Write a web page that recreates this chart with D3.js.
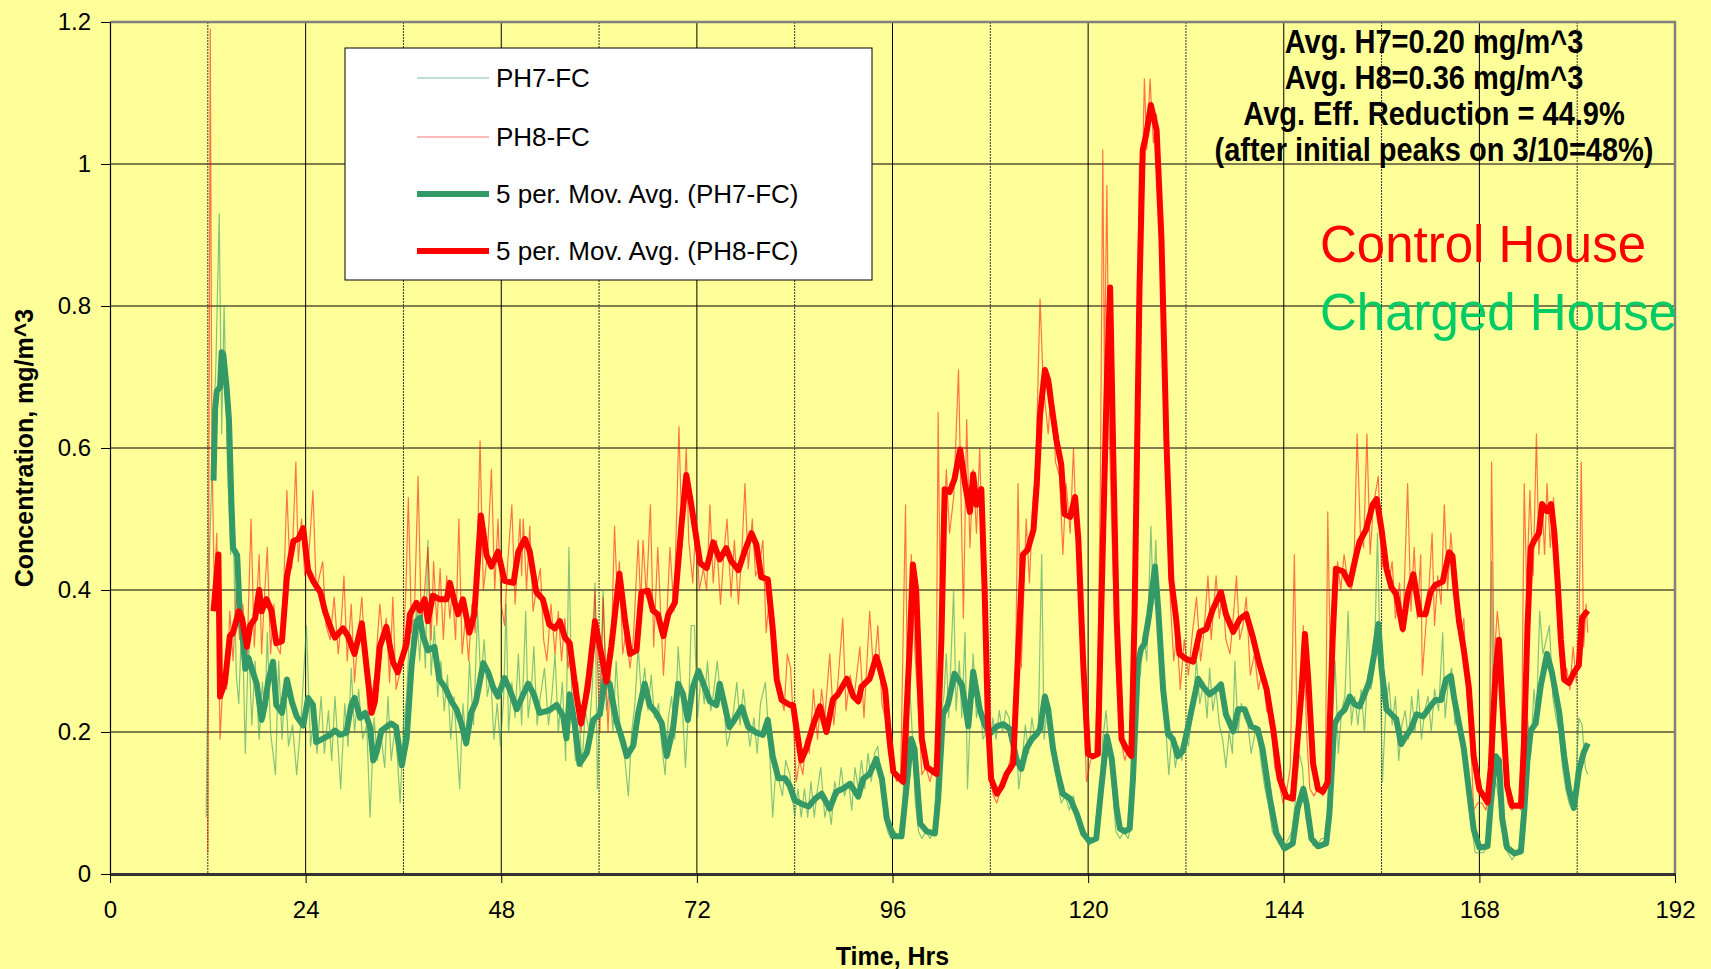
<!DOCTYPE html>
<html>
<head>
<meta charset="utf-8">
<script src="https://cdn.jsdelivr.net/npm/d3@7"></script>
<style>
  html, body { margin: 0; padding: 0; background: #ffff99; }
  svg { display: block; font-family: Arial, "Liberation Sans", sans-serif; }
</style>
</head>
<body>
<svg id="chart" width="1711" height="969"></svg>
<script>
'use strict';

// ---- data (hours, mg/m^3) ----

const xTicks = [0, 24, 48, 72, 96, 120, 144, 168, 192];
const yTicks = [0, 0.2, 0.4, 0.6, 0.8, 1, 1.2];

const legendLabels = ['PH7-FC', 'PH8-FC', '5 per. Mov. Avg. (PH7-FC)', '5 per. Mov. Avg. (PH8-FC)'];
const summaryLines = [
  'Avg. H7=0.20 mg/m^3',
  'Avg. H8=0.36 mg/m^3',
  'Avg. Eff. Reduction = 44.9%',
  '(after initial peaks on 3/10=48%)'
];
const houseLabels = ['Control House', 'Charged House'];

// PH7-FC raw readings (charged house)
const ph7Raw = [
  [11.8,0.08],[12.2,0.45],[12.6,0.60],[13.0,0.72],[13.4,0.93],[13.7,0.62],[14.0,0.80],[14.4,0.58],[14.8,0.45],[15.1,0.50],
  [15.5,0.28],[15.8,0.24],[16.2,0.37],[16.6,0.17],[17.0,0.33],[17.4,0.21],[17.8,0.30],[18.3,0.19],[18.7,0.27],[19.0,0.22],
  [19.3,0.34],[19.7,0.20],[20.3,0.14],[20.7,0.30],[21.1,0.19],[21.5,0.27],[21.9,0.18],[22.4,0.21],[22.9,0.14],[23.4,0.21],
  [24.1,0.35],[24.6,0.18],[25.0,0.22],[25.4,0.17],[25.9,0.25],[26.3,0.17],[26.8,0.23],[27.2,0.16],[27.6,0.25],[28.3,0.12],
  [28.8,0.24],[29.2,0.18],[29.6,0.29],[30.0,0.20],[30.5,0.26],[31.0,0.19],[31.5,0.21],[31.9,0.08],[32.4,0.22],[32.8,0.16],
  [33.2,0.20],[33.7,0.15],[34.1,0.25],[34.5,0.16],[35.0,0.21],[35.6,0.10],[36.0,0.21],[36.4,0.25],[36.8,0.36],[37.2,0.28],
  [37.6,0.38],[38.0,0.30],[38.3,0.37],[38.7,0.29],[39.0,0.47],[39.4,0.28],[39.8,0.35],[40.2,0.25],[40.6,0.30],[41.0,0.23],
  [41.4,0.28],[41.8,0.19],[42.2,0.25],[42.9,0.12],[43.3,0.24],[43.7,0.18],[44.1,0.30],[44.6,0.21],[45.1,0.37],[45.5,0.27],
  [45.9,0.33],[46.3,0.25],[46.7,0.28],[47.1,0.19],[47.5,0.24],[47.9,0.18],[48.3,0.25],[48.6,0.38],[48.9,0.20],[49.3,0.27],
  [49.7,0.22],[50.1,0.31],[50.5,0.21],[51.0,0.37],[51.3,0.22],[51.7,0.26],[52.0,0.32],[52.4,0.21],[52.8,0.25],[53.3,0.29],
  [53.8,0.21],[54.2,0.25],[54.6,0.31],[55.0,0.20],[55.5,0.27],[55.9,0.16],[56.3,0.46],[56.7,0.22],[57.1,0.16],[57.5,0.24],
  [57.9,0.15],[58.3,0.23],[58.8,0.20],[59.2,0.27],[59.5,0.41],[59.8,0.12],[60.2,0.28],[60.5,0.40],[60.9,0.23],[61.3,0.26],
  [61.7,0.20],[62.1,0.30],[62.6,0.20],[63.0,0.18],[63.6,0.11],[64.0,0.20],[64.4,0.24],[64.8,0.32],[65.2,0.25],[65.6,0.29],
  [66.0,0.23],[66.4,0.28],[66.8,0.22],[67.3,0.24],[67.7,0.18],[68.1,0.14],[68.5,0.22],[68.9,0.25],[69.3,0.19],[69.7,0.32],
  [70.2,0.24],[70.6,0.15],[71.0,0.24],[71.3,0.35],[71.7,0.35],[72.1,0.22],[72.5,0.28],[72.9,0.24],[73.3,0.30],[73.7,0.23],
  [74.1,0.26],[74.5,0.30],[74.9,0.25],[75.3,0.24],[75.7,0.18],[76.1,0.20],[76.5,0.23],[76.9,0.27],[77.3,0.21],[77.7,0.26],
  [78.1,0.22],[78.5,0.18],[79.0,0.22],[79.4,0.17],[79.8,0.24],[80.4,0.27],[80.8,0.20],[81.3,0.08],[81.7,0.15],[82.1,0.13],
  [82.5,0.11],[82.9,0.16],[83.4,0.14],[84.0,0.08],[84.4,0.12],[84.8,0.08],[85.2,0.12],[85.6,0.08],[86.0,0.13],[86.4,0.08],
  [86.8,0.12],[87.2,0.15],[87.7,0.08],[88.1,0.10],[88.5,0.07],[88.9,0.13],[89.3,0.11],[89.7,0.15],[90.1,0.11],[90.6,0.13],
  [91.0,0.09],[91.4,0.15],[91.8,0.12],[92.2,0.16],[92.6,0.12],[93.0,0.17],[93.4,0.13],[93.8,0.17],[94.2,0.18],[94.6,0.13],
  [95.0,0.08],[95.4,0.06],[95.8,0.05],[96.3,0.06],[96.8,0.05],[97.2,0.07],[97.7,0.25],[98.1,0.27],[98.5,0.18],[98.8,0.10],
  [99.2,0.06],[99.6,0.05],[100.1,0.06],[100.6,0.05],[101.1,0.06],[101.5,0.17],[101.9,0.22],[102.3,0.25],[102.6,0.31],[102.9,0.22],
  [103.5,0.40],[103.8,0.23],[104.2,0.30],[104.5,0.22],[104.9,0.34],[105.2,0.12],[105.6,0.24],[105.9,0.31],[106.3,0.22],[106.7,0.25],
  [107.1,0.19],[107.5,0.20],[107.9,0.16],[108.3,0.22],[108.7,0.19],[109.1,0.23],[109.5,0.20],[109.9,0.23],[110.3,0.22],[110.7,0.17],
  [111.1,0.20],[111.5,0.12],[111.9,0.16],[112.3,0.21],[112.7,0.17],[113.1,0.22],[113.5,0.19],[113.9,0.21],[114.3,0.45],[114.6,0.19],
  [115.0,0.24],[115.4,0.21],[115.8,0.17],[116.2,0.13],[116.7,0.10],[117.2,0.11],[117.7,0.09],[118.2,0.11],[118.6,0.08],[119.1,0.06],
  [119.6,0.05],[120.1,0.04],[120.6,0.05],[121.0,0.05],[121.4,0.11],[121.8,0.19],[122.2,0.23],[122.6,0.17],[123.0,0.12],[123.4,0.06],
  [123.9,0.05],[124.4,0.06],[124.9,0.05],[125.3,0.07],[125.6,0.20],[126.0,0.30],[126.4,0.28],[126.8,0.34],[127.2,0.30],[127.7,0.49],
  [128.0,0.38],[128.3,0.47],[128.7,0.33],[129.1,0.25],[129.5,0.21],[129.9,0.14],[130.3,0.20],[130.7,0.15],[131.1,0.18],[131.5,0.16],
  [131.9,0.20],[132.3,0.18],[132.8,0.23],[133.3,0.30],[133.7,0.24],[134.2,0.27],[134.6,0.22],[134.9,0.29],[135.3,0.23],[135.7,0.26],
  [136.1,0.21],[136.5,0.19],[136.9,0.15],[137.3,0.20],[137.7,0.17],[138.0,0.30],[138.4,0.20],[138.8,0.24],[139.2,0.22],[139.6,0.21],
  [140.0,0.17],[140.5,0.20],[140.9,0.19],[141.3,0.15],[141.7,0.12],[142.1,0.10],[142.6,0.06],[143.1,0.05],[143.6,0.04],[144.1,0.04],
  [144.6,0.05],[145.0,0.06],[145.4,0.10],[145.9,0.17],[146.3,0.15],[146.7,0.08],[147.1,0.06],[147.6,0.04],[148.1,0.04],[148.6,0.05],
  [149.1,0.05],[149.5,0.08],[149.9,0.20],[150.3,0.30],[150.7,0.17],[151.1,0.23],[151.5,0.25],[151.9,0.37],[152.3,0.21],[152.7,0.25],
  [153.1,0.21],[153.5,0.26],[153.9,0.20],[154.3,0.28],[154.7,0.26],[155.1,0.29],[155.5,0.48],[155.8,0.31],[156.1,0.13],[156.5,0.23],
  [156.9,0.27],[157.3,0.21],[157.7,0.25],[158.1,0.16],[158.5,0.21],[158.9,0.23],[159.3,0.19],[159.7,0.25],[160.1,0.20],[160.5,0.26],
  [160.9,0.19],[161.3,0.23],[161.7,0.25],[162.1,0.20],[162.5,0.26],[163.0,0.23],[163.5,0.34],[163.8,0.22],[164.2,0.27],[164.6,0.29],
  [165.0,0.21],[165.4,0.23],[165.8,0.19],[166.2,0.16],[166.6,0.12],[167.0,0.07],[167.5,0.03],[168.0,0.03],[168.5,0.03],[169.0,0.04],
  [169.3,0.10],[169.5,0.44],[169.8,0.14],[170.2,0.12],[170.6,0.08],[171.0,0.04],[171.5,0.03],[172.0,0.02],[172.6,0.03],[173.1,0.04],
  [173.5,0.12],[173.9,0.22],[174.3,0.17],[174.7,0.26],[175.0,0.22],[175.4,0.37],[175.8,0.31],[176.2,0.33],[176.6,0.35],[177.0,0.25],
  [177.4,0.22],[177.8,0.20],[178.2,0.15],[178.6,0.12],[179.0,0.10],[179.4,0.09],[179.8,0.12],[180.2,0.22],[180.6,0.21],[181.0,0.15],
  [181.3,0.14]
];

// PH8-FC raw readings (control house)
const ph8Raw = [
  [12.0,0.03],[12.3,1.19],[12.5,0.60],[12.8,0.40],[13.1,0.48],[13.5,0.19],[13.9,0.28],[14.3,0.26],[14.7,0.37],[15.1,0.30],
  [15.5,0.40],[15.9,0.33],[16.3,0.38],[16.8,0.30],[17.3,0.50],[17.7,0.32],[18.3,0.45],[18.6,0.31],[18.9,0.38],[19.3,0.46],
  [19.7,0.31],[20.1,0.38],[20.5,0.32],[20.9,0.31],[21.3,0.40],[21.7,0.54],[22.0,0.45],[22.3,0.43],[22.8,0.58],[23.1,0.44],
  [23.5,0.50],[23.9,0.42],[24.4,0.45],[24.9,0.54],[25.3,0.40],[25.7,0.42],[26.1,0.44],[26.5,0.35],[27.0,0.33],[27.5,0.39],
  [28.0,0.31],[28.4,0.36],[28.7,0.42],[29.1,0.30],[29.6,0.38],[30.0,0.27],[30.4,0.33],[30.9,0.39],[31.3,0.30],[31.7,0.22],
  [32.1,0.25],[32.5,0.28],[33.1,0.38],[33.5,0.33],[33.9,0.36],[34.3,0.27],[34.7,0.39],[35.1,0.26],[35.5,0.28],[35.9,0.31],
  [36.3,0.40],[36.6,0.53],[37.0,0.34],[37.4,0.39],[37.8,0.56],[38.2,0.35],[38.6,0.40],[39.0,0.46],[39.4,0.33],[39.7,0.44],
  [40.1,0.35],[40.5,0.43],[40.9,0.33],[41.3,0.42],[41.7,0.36],[42.0,0.40],[42.4,0.33],[42.8,0.50],[43.2,0.31],[43.6,0.36],
  [44.0,0.30],[44.4,0.38],[44.8,0.34],[45.4,0.61],[45.8,0.40],[46.3,0.45],[46.8,0.57],[47.2,0.40],[47.6,0.50],[48.0,0.38],
  [48.4,0.35],[48.8,0.44],[49.3,0.52],[49.7,0.38],[50.3,0.50],[50.5,0.42],[50.7,0.50],[51.1,0.40],[51.5,0.49],[51.9,0.37],
  [52.3,0.40],[52.8,0.43],[53.2,0.33],[53.6,0.30],[54.1,0.38],[54.6,0.31],[55.0,0.37],[55.4,0.30],[55.8,0.36],[56.2,0.29],
  [56.6,0.32],[57.0,0.25],[57.4,0.27],[57.8,0.20],[58.2,0.26],[58.6,0.29],[59.0,0.30],[59.5,0.40],[60.1,0.20],[60.5,0.39],
  [61.1,0.20],[61.5,0.32],[61.9,0.49],[62.2,0.40],[62.5,0.44],[62.9,0.31],[63.3,0.34],[63.8,0.29],[64.2,0.33],[64.8,0.47],
  [65.1,0.38],[65.4,0.47],[65.8,0.39],[66.3,0.52],[66.7,0.32],[67.2,0.46],[67.9,0.28],[68.3,0.36],[68.7,0.46],[69.2,0.37],
  [69.8,0.63],[70.2,0.46],[70.7,0.60],[71.0,0.47],[71.5,0.41],[71.9,0.50],[72.3,0.40],[72.8,0.43],[73.2,0.40],[73.6,0.52],
  [74.0,0.41],[74.4,0.47],[74.9,0.38],[75.3,0.45],[75.7,0.50],[76.2,0.39],[76.6,0.47],[77.1,0.38],[77.5,0.45],[77.9,0.55],
  [78.3,0.43],[78.8,0.50],[79.2,0.42],[79.6,0.43],[80.1,0.47],[80.5,0.34],[80.9,0.39],[81.3,0.30],[81.8,0.27],[82.3,0.25],
  [82.7,0.23],[83.1,0.31],[83.5,0.29],[84.2,0.13],[84.6,0.16],[85.0,0.14],[85.4,0.19],[85.8,0.17],[86.3,0.26],[86.8,0.19],
  [87.3,0.26],[87.7,0.22],[88.3,0.31],[88.8,0.21],[89.3,0.27],[89.9,0.36],[90.3,0.23],[90.8,0.28],[91.3,0.25],[92.0,0.32],
  [92.5,0.22],[93.2,0.37],[93.7,0.28],[94.2,0.35],[94.7,0.24],[95.1,0.22],[95.5,0.17],[96.0,0.15],[96.5,0.13],[97.0,0.14],
  [97.6,0.52],[97.9,0.15],[98.3,0.45],[98.7,0.32],[99.1,0.25],[99.6,0.14],[100.1,0.15],[100.6,0.13],[101.0,0.15],[101.3,0.14],
  [101.6,0.65],[101.9,0.34],[102.2,0.45],[102.6,0.57],[103.0,0.48],[103.5,0.53],[104.1,0.71],[104.7,0.36],[105.1,0.64],[105.5,0.46],
  [105.9,0.57],[106.3,0.48],[106.7,0.60],[107.1,0.42],[107.6,0.20],[108.0,0.13],[108.4,0.11],[108.8,0.10],[109.3,0.12],[109.7,0.13],
  [110.2,0.15],[110.6,0.17],[111.0,0.20],[111.4,0.55],[111.8,0.29],[112.4,0.50],[112.8,0.41],[113.2,0.52],[113.6,0.58],[114.1,0.81],
  [114.5,0.69],[115.1,0.62],[115.5,0.69],[116.0,0.58],[116.5,0.56],[116.9,0.45],[117.3,0.55],[117.8,0.48],[118.2,0.60],[118.6,0.47],
  [119.0,0.38],[119.4,0.25],[119.8,0.13],[120.3,0.16],[120.8,0.17],[121.2,0.28],[121.5,0.55],[121.8,1.02],[122.0,0.70],[122.3,0.97],
  [122.6,0.62],[123.0,0.45],[123.5,0.28],[124.0,0.19],[124.5,0.16],[125.0,0.18],[125.4,0.17],[125.9,0.65],[126.3,1.00],[126.6,0.95],
  [126.9,1.12],[127.2,1.02],[127.6,1.12],[128.0,1.03],[128.4,1.07],[128.9,0.85],[129.3,0.70],[129.7,0.52],[130.1,0.38],[130.5,0.30],
  [130.9,0.34],[131.3,0.26],[131.8,0.33],[132.3,0.28],[132.8,0.34],[133.3,0.39],[133.8,0.30],[134.2,0.34],[134.7,0.42],[135.1,0.33],
  [135.7,0.42],[136.1,0.36],[136.5,0.40],[136.9,0.33],[137.4,0.31],[137.8,0.36],[138.2,0.42],[138.6,0.33],[139.0,0.35],[139.4,0.39],
  [139.9,0.28],[140.4,0.31],[140.9,0.26],[141.4,0.29],[141.9,0.23],[142.4,0.22],[142.9,0.15],[143.4,0.13],[143.9,0.10],[144.4,0.12],
  [144.8,0.15],[145.3,0.45],[145.7,0.15],[146.0,0.22],[146.4,0.35],[146.8,0.20],[147.2,0.12],[147.7,0.11],[148.2,0.12],[148.8,0.11],
  [149.1,0.13],[149.4,0.51],[149.8,0.24],[150.2,0.35],[150.6,0.44],[151.0,0.40],[151.4,0.45],[151.9,0.41],[152.3,0.40],[152.6,0.43],
  [153.0,0.62],[153.4,0.48],[153.8,0.46],[154.2,0.62],[154.6,0.45],[155.0,0.52],[155.6,0.56],[156.0,0.43],[156.5,0.46],[156.9,0.41],
  [157.3,0.44],[157.7,0.36],[158.2,0.41],[158.6,0.34],[159.2,0.55],[159.6,0.37],[160.0,0.46],[160.4,0.36],[160.8,0.45],[161.0,0.28],
  [161.5,0.36],[161.8,0.40],[162.2,0.48],[162.5,0.35],[162.9,0.42],[163.3,0.38],[163.7,0.52],[164.1,0.40],[164.5,0.48],[164.9,0.42],
  [165.3,0.40],[165.7,0.33],[166.1,0.36],[166.5,0.25],[166.9,0.20],[167.3,0.09],[167.8,0.10],[168.3,0.10],[168.8,0.09],[169.2,0.12],
  [169.5,0.58],[169.8,0.30],[170.2,0.37],[170.6,0.32],[171.0,0.15],[171.5,0.10],[172.0,0.09],[172.6,0.10],[173.1,0.09],[173.5,0.55],
  [173.8,0.40],[174.2,0.54],[174.6,0.42],[175.0,0.62],[175.3,0.45],[175.7,0.52],[176.0,0.45],[176.3,0.55],[176.7,0.46],[177.1,0.53],
  [177.5,0.38],[177.9,0.31],[178.3,0.27],[178.7,0.29],[179.1,0.26],[179.5,0.32],[179.9,0.27],[180.2,0.33],[180.5,0.58],[180.8,0.32],
  [181.1,0.38],[181.3,0.34]
];

// 5 period moving average of PH7-FC, as drawn
const ph7Avg = [
  [12.7,0.554],[12.9,0.655],[13.1,0.68],[13.5,0.686],[13.7,0.735],[13.9,0.732],[14.3,0.686],[14.6,0.639],[14.9,0.521],[15.1,0.459],
  [15.6,0.449],[15.9,0.371],[16.2,0.346],[16.6,0.289],[17.0,0.304],[17.4,0.289],[18.0,0.268],[18.6,0.217],[19.0,0.238],[19.4,0.271],
  [20.0,0.299],[20.4,0.238],[21.1,0.227],[21.7,0.274],[22.3,0.243],[22.9,0.222],[23.7,0.209],[24.3,0.248],[24.9,0.238],[25.3,0.186],
  [26.2,0.191],[27.0,0.196],[27.6,0.202],[28.2,0.196],[29.0,0.199],[29.6,0.238],[30.0,0.248],[30.7,0.22],[31.3,0.227],[31.9,0.207],
  [32.3,0.16],[32.7,0.171],[33.3,0.202],[33.9,0.207],[34.5,0.212],[35.1,0.207],[35.8,0.153],[36.4,0.191],[37.0,0.294],[37.6,0.356],
  [38.0,0.361],[38.4,0.335],[39.0,0.315],[39.8,0.32],[40.4,0.274],[41.1,0.263],[41.9,0.243],[42.5,0.232],[43.1,0.212],[43.7,0.184],
  [44.3,0.227],[44.9,0.243],[45.8,0.297],[46.4,0.284],[47.0,0.263],[47.6,0.25],[48.4,0.276],[49.1,0.258],[49.9,0.232],[50.7,0.253],
  [51.3,0.268],[52.0,0.253],[52.7,0.227],[53.8,0.23],[54.8,0.238],[55.6,0.222],[56.0,0.191],[56.4,0.253],[57.0,0.212],[57.6,0.155],
  [58.5,0.171],[59.3,0.217],[60.1,0.225],[60.7,0.274],[61.3,0.268],[62.1,0.217],[62.8,0.191],[63.4,0.166],[64.2,0.181],[64.8,0.227],
  [65.6,0.268],[66.2,0.238],[67.0,0.227],[67.7,0.212],[68.3,0.166],[69.1,0.207],[69.7,0.268],[70.3,0.253],[70.9,0.217],[71.5,0.263],
  [72.2,0.286],[72.8,0.268],[73.6,0.243],[74.4,0.238],[74.8,0.268],[75.4,0.238],[76.0,0.207],[76.6,0.217],[77.5,0.235],[78.3,0.207],
  [79.3,0.199],[80.1,0.196],[80.7,0.217],[81.3,0.166],[82.0,0.135],[82.8,0.135],[83.4,0.124],[84.0,0.104],[84.8,0.099],[85.7,0.095],
  [86.5,0.106],[87.3,0.113],[88.3,0.092],[89.1,0.116],[89.9,0.12],[90.8,0.127],[91.8,0.109],[92.4,0.134],[93.2,0.141],[94.0,0.162],
  [94.7,0.134],[95.3,0.078],[96.1,0.053],[97.1,0.053],[97.7,0.12],[98.3,0.19],[98.7,0.176],[99.4,0.071],[100.2,0.06],[101.2,0.057],
  [101.6,0.106],[102.2,0.225],[102.8,0.239],[103.6,0.282],[104.5,0.267],[104.9,0.239],[105.3,0.208],[105.9,0.285],[106.7,0.232],[107.3,0.211],
  [107.9,0.197],[108.8,0.208],[109.6,0.211],[110.4,0.204],[111.2,0.162],[111.8,0.148],[112.4,0.176],[113.1,0.19],[113.7,0.197],[114.1,0.204],
  [114.7,0.25],[115.1,0.232],[115.7,0.176],[116.3,0.141],[116.9,0.113],[117.8,0.106],[118.6,0.085],[119.4,0.057],[120.2,0.046],[121.0,0.05],
  [121.6,0.12],[122.3,0.194],[122.9,0.162],[123.5,0.092],[123.9,0.064],[124.5,0.06],[125.1,0.064],[125.5,0.134],[126.1,0.296],[126.5,0.317],
  [126.9,0.324],[127.5,0.366],[128.2,0.433],[128.6,0.373],[129.2,0.26],[129.8,0.197],[130.4,0.19],[131.0,0.166],[131.6,0.173],[132.4,0.215],
  [133.5,0.275],[134.1,0.264],[134.9,0.253],[135.7,0.26],[136.3,0.267],[136.9,0.225],[137.8,0.201],[138.4,0.232],[139.2,0.232],[140.0,0.208],
  [140.8,0.204],[141.4,0.176],[142.3,0.106],[143.1,0.057],[144.1,0.036],[145.1,0.043],[145.7,0.092],[146.4,0.12],[146.8,0.099],[147.4,0.05],
  [148.2,0.039],[149.2,0.043],[149.6,0.085],[150.2,0.211],[150.9,0.225],[151.5,0.232],[152.1,0.25],[152.7,0.239],[153.3,0.236],[153.9,0.253],
  [154.5,0.271],[155.1,0.31],[155.6,0.352],[156.0,0.289],[156.6,0.232],[157.2,0.225],[157.8,0.218],[158.4,0.183],[159.0,0.194],[159.6,0.204],
  [160.3,0.225],[161.1,0.222],[161.9,0.235],[162.6,0.245],[163.3,0.245],[163.9,0.274],[164.5,0.279],[164.9,0.248],[165.5,0.212],[166.1,0.176],
  [166.7,0.119],[167.3,0.063],[168.0,0.037],[169.0,0.039],[169.4,0.099],[170.0,0.166],[170.4,0.16],[170.8,0.078],[171.4,0.037],[172.3,0.029],
  [173.1,0.032],[173.5,0.088],[173.9,0.16],[174.3,0.202],[174.9,0.212],[175.5,0.263],[176.3,0.31],[176.9,0.284],[177.8,0.227],[178.4,0.166],
  [179.0,0.119],[179.6,0.093],[180.2,0.145],[180.8,0.171],[181.3,0.184]
];

// 5 period moving average of PH8-FC, as drawn
const ph8Avg = [
  [12.7,0.37],[13.3,0.45],[13.5,0.25],[14.1,0.27],[14.7,0.335],[15.1,0.34],[15.8,0.37],[16.2,0.36],[16.8,0.32],[17.2,0.35],
  [17.8,0.36],[18.3,0.40],[18.6,0.37],[19.2,0.387],[19.8,0.371],[20.4,0.325],[21.1,0.328],[21.7,0.418],[22.5,0.469],[23.1,0.472],
  [23.7,0.487],[24.3,0.428],[24.9,0.413],[25.8,0.397],[26.4,0.369],[27.2,0.343],[27.6,0.333],[28.6,0.346],[29.2,0.335],[30.0,0.31],
  [30.9,0.353],[31.5,0.289],[32.1,0.227],[32.5,0.243],[33.1,0.32],[33.9,0.348],[34.7,0.299],[35.3,0.284],[36.4,0.325],[36.8,0.366],
  [37.6,0.382],[38.0,0.371],[38.6,0.387],[39.0,0.356],[39.6,0.392],[40.4,0.387],[41.3,0.387],[41.7,0.41],[42.3,0.382],[42.7,0.366],
  [43.3,0.387],[44.1,0.34],[44.7,0.366],[45.5,0.505],[46.2,0.449],[46.8,0.433],[47.6,0.454],[48.4,0.413],[49.5,0.41],[50.1,0.454],
  [50.9,0.472],[51.5,0.454],[52.3,0.397],[53.1,0.387],[53.9,0.351],[54.6,0.346],[55.2,0.356],[55.8,0.333],[56.4,0.325],[57.2,0.253],
  [57.8,0.212],[58.6,0.263],[59.5,0.356],[60.1,0.32],[60.9,0.271],[61.5,0.32],[62.5,0.423],[63.2,0.356],[63.8,0.31],[64.6,0.315],
  [65.2,0.397],[66.0,0.399],[66.6,0.371],[67.2,0.366],[67.9,0.335],[68.5,0.366],[69.3,0.382],[70.1,0.49],[70.7,0.562],[71.3,0.521],
  [72.4,0.438],[73.2,0.431],[74.0,0.467],[74.8,0.443],[75.6,0.459],[76.2,0.441],[77.1,0.428],[77.9,0.456],[78.7,0.48],[79.3,0.464],
  [79.9,0.418],[80.7,0.415],[81.3,0.346],[81.8,0.274],[82.4,0.245],[83.4,0.238],[83.8,0.238],[84.4,0.191],[84.8,0.16],[85.4,0.176],
  [86.3,0.211],[87.1,0.236],[87.9,0.2],[88.7,0.246],[89.3,0.253],[90.4,0.275],[91.2,0.25],[91.8,0.243],[92.2,0.264],[93.2,0.275],
  [94.0,0.306],[94.4,0.292],[95.1,0.26],[95.5,0.204],[96.1,0.144],[96.9,0.134],[97.3,0.13],[98.1,0.317],[98.5,0.436],[98.9,0.401],
  [99.6,0.19],[100.2,0.151],[101.0,0.144],[101.4,0.141],[102.0,0.331],[102.4,0.542],[103.0,0.538],[103.6,0.556],[104.3,0.598],[104.9,0.549],
  [105.5,0.51],[105.9,0.563],[106.3,0.52],[106.9,0.542],[107.3,0.401],[107.7,0.218],[108.1,0.134],[108.8,0.113],[109.4,0.123],[110.0,0.141],
  [110.8,0.155],[111.4,0.31],[112.0,0.45],[112.6,0.457],[113.3,0.485],[113.7,0.549],[114.1,0.647],[114.7,0.71],[115.1,0.696],[115.5,0.661],
  [116.1,0.612],[116.7,0.577],[117.1,0.507],[117.8,0.503],[118.4,0.531],[118.8,0.471],[119.4,0.296],[120.0,0.169],[120.6,0.166],[121.2,0.169],
  [121.6,0.366],[122.3,0.696],[122.7,0.826],[123.1,0.58],[123.5,0.36],[124.1,0.19],[124.7,0.176],[125.3,0.166],[125.7,0.366],[126.3,0.823],
  [126.7,1.02],[127.1,1.04],[127.7,1.083],[128.4,1.048],[129.0,0.893],[129.6,0.612],[130.2,0.415],[130.8,0.359],[131.2,0.31],[132.0,0.303],
  [132.9,0.299],[133.7,0.341],[134.5,0.345],[135.3,0.373],[136.3,0.397],[136.9,0.366],[137.8,0.341],[138.6,0.359],[139.4,0.366],[140.2,0.334],
  [141.0,0.296],[141.9,0.26],[142.7,0.204],[143.5,0.134],[144.3,0.109],[145.1,0.106],[146.2,0.26],[146.6,0.338],[147.0,0.275],[147.6,0.155],
  [148.2,0.12],[148.8,0.116],[149.4,0.13],[150.0,0.331],[150.4,0.43],[151.3,0.426],[152.1,0.408],[152.9,0.45],[153.3,0.468],[154.1,0.485],
  [154.9,0.52],[155.4,0.528],[156.0,0.485],[156.6,0.43],[157.2,0.404],[157.8,0.394],[158.6,0.345],[159.2,0.394],[159.9,0.422],[160.7,0.366],
  [161.4,0.366],[162.0,0.397],[162.6,0.407],[163.5,0.412],[164.3,0.453],[164.7,0.448],[165.1,0.397],[165.5,0.356],[166.1,0.315],[166.7,0.263],
  [167.3,0.166],[168.0,0.119],[169.0,0.101],[169.4,0.15],[170.0,0.289],[170.4,0.33],[170.8,0.243],[171.4,0.124],[172.0,0.096],[173.1,0.096],
  [173.5,0.191],[173.9,0.346],[174.3,0.459],[174.7,0.469],[175.3,0.48],[175.7,0.521],[176.3,0.511],[176.8,0.521],[177.2,0.48],[177.6,0.412],
  [178.0,0.33],[178.4,0.274],[179.0,0.269],[179.6,0.284],[180.2,0.294],[180.6,0.361],[181.3,0.371]
];

// ---- layout ----

var svg = d3.select('#chart');

var plot = { left: 110, right: 1675, top: 22, bottom: 874 };

var x = d3.scaleLinear().domain([0, 192]).range([plot.left, plot.right]);
var y = d3.scaleLinear().domain([0, 1.2]).range([plot.bottom, plot.top]);

var font = 'Arial, "Liberation Sans", sans-serif';

svg.append('rect')
    .attr('width', 1711).attr('height', 969)
    .attr('fill', '#ffff99');

// gridlines
var grid = svg.append('g');

grid.selectAll('line.hgrid')
    .data(yTicks.filter(function(d) { return d > 0 && d < 1.2; }))
    .enter().append('line')
    .attr('class', 'hgrid')
    .attr('x1', plot.left).attr('x2', plot.right)
    .attr('y1', function(d) { return y(d); })
    .attr('y2', function(d) { return y(d); })
    .attr('stroke', '#000').attr('stroke-width', 1);

grid.selectAll('line.vgrid')
    .data(d3.range(12, 192, 12))
    .enter().append('line')
    .attr('class', 'vgrid')
    .attr('x1', function(d) { return x(d); })
    .attr('x2', function(d) { return x(d); })
    .attr('y1', plot.top).attr('y2', plot.bottom)
    .attr('stroke', function(d) { return d % 24 === 0 ? '#000' : '#333'; })
    .attr('stroke-width', 1)
    .attr('stroke-dasharray', function(d) { return d % 24 === 0 ? null : '2,1'; });

// plot area border (grey, top and right)
svg.append('path')
    .attr('d', 'M' + plot.left + ',' + plot.top + 'H' + plot.right + 'V' + plot.bottom)
    .attr('fill', 'none')
    .attr('stroke', '#808080')
    .attr('stroke-width', 2.5);

// series
var line = d3.line()
    .x(function(d) { return x(d[0]); })
    .y(function(d) { return y(d[1]); });

var series = [
    { data: ph7Raw, color: '#339966', width: 1.2, opacity: 0.6 },
    { data: ph8Raw, color: '#ff0000', width: 1.2, opacity: 0.55 },
    { data: ph7Avg, color: '#339966', width: 6, opacity: 1 },
    { data: ph8Avg, color: '#ff0000', width: 6, opacity: 1 }
];

svg.append('g')
    .selectAll('path')
    .data(series)
    .enter().append('path')
    .attr('d', function(s) { return line(s.data); })
    .attr('fill', 'none')
    .attr('stroke', function(s) { return s.color; })
    .attr('stroke-width', function(s) { return s.width; })
    .attr('stroke-opacity', function(s) { return s.opacity; })
    .attr('stroke-linejoin', 'round');

// axes
var yAxis = svg.append('g')
    .attr('transform', 'translate(' + plot.left + ',0)')
    .call(d3.axisLeft(y)
        .tickValues(yTicks)
        .tickSize(9)
        .tickSizeOuter(0)
        .tickPadding(10)
        .tickFormat(function(d) { return String(d); }));

var xAxis = svg.append('g')
    .attr('transform', 'translate(0,' + plot.bottom + ')')
    .call(d3.axisBottom(x)
        .tickValues(xTicks)
        .tickSize(9)
        .tickSizeOuter(0)
        .tickPadding(18)
        .tickFormat(function(d) { return String(d); }));

[yAxis, xAxis].forEach(function(ax) {
    ax.attr('font-family', font).attr('font-size', 24);
    ax.selectAll('text').attr('fill', '#000');
    ax.selectAll('line').attr('stroke', '#000');
});
yAxis.select('.domain').attr('stroke', '#000').attr('stroke-width', 1.2);
xAxis.select('.domain').attr('stroke', '#333').attr('stroke-width', 3);

// axis titles
svg.append('text')
    .attr('transform', 'translate(24,448) rotate(-90)')
    .attr('text-anchor', 'middle')
    .attr('dominant-baseline', 'central')
    .attr('font-family', font)
    .attr('font-weight', 'bold')
    .attr('font-size', 25)
    .text('Concentration, mg/m^3');

svg.append('text')
    .attr('x', (plot.left + plot.right) / 2)
    .attr('y', 965)
    .attr('text-anchor', 'middle')
    .attr('font-family', font)
    .attr('font-weight', 'bold')
    .attr('font-size', 25)
    .text('Time, Hrs');

// legend
var legend = svg.append('g');

legend.append('rect')
    .attr('x', 345).attr('y', 48)
    .attr('width', 527).attr('height', 232)
    .attr('fill', '#fff')
    .attr('stroke', '#000')
    .attr('stroke-width', 1);

var legendRows = [78, 137, 194, 251];

legend.selectAll('line')
    .data(series)
    .enter().append('line')
    .attr('x1', 417).attr('x2', 489)
    .attr('y1', function(s, i) { return legendRows[i]; })
    .attr('y2', function(s, i) { return legendRows[i]; })
    .attr('stroke', function(s) { return s.color; })
    .attr('stroke-width', function(s) { return s.width; })
    .attr('stroke-opacity', function(s) { return s.opacity; });

legend.selectAll('text')
    .data(legendLabels)
    .enter().append('text')
    .attr('x', 496)
    .attr('y', function(d, i) { return legendRows[i] + 9; })
    .attr('font-family', font)
    .attr('font-size', 26)
    .text(function(d) { return d; });

// summary text, top right
svg.append('g')
    .selectAll('text')
    .data(summaryLines)
    .enter().append('text')
    .attr('transform', function(d, i) {
        return 'translate(1434,' + (53 + i * 36) + ') scale(1,1.14)';
    })
    .attr('text-anchor', 'middle')
    .attr('font-family', font)
    .attr('font-weight', 'bold')
    .attr('font-size', 29)
    .text(function(d) { return d; });

// house labels
svg.append('g')
    .selectAll('text')
    .data(houseLabels)
    .enter().append('text')
    .attr('x', 1320)
    .attr('y', function(d, i) { return 262 + i * 68; })
    .attr('font-family', font)
    .attr('font-size', 51)
    .attr('fill', function(d, i) { return i === 0 ? '#ff0000' : '#00cc66'; })
    .text(function(d) { return d; });
</script>
</body>
</html>
